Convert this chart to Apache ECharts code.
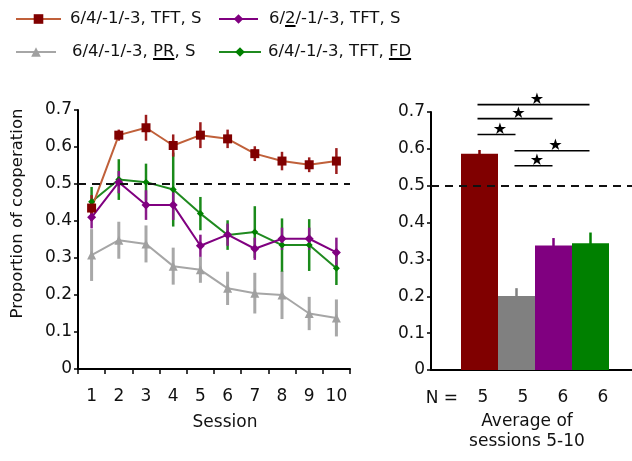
<!DOCTYPE html>
<html>
<head>
<meta charset="utf-8">
<script src="https://cdn.jsdelivr.net/npm/echarts@6/dist/echarts.min.js"></script>
<style>html,body{margin:0;padding:0;background:#fff}#c{width:632px;height:461px}</style>
</head>
<body>
<div id="c"></div>
<script>
// ---- data ----
const sessions = ['1','2','3','4','5','6','7','8','9','10'];
const seriesNames = ['6/4/-1/-3, TFT, S', '6/2/-1/-3, TFT, S', '6/4/-1/-3, PR, S', '6/4/-1/-3, TFT, FD'];
const tftS   = [0.435, 0.632, 0.652, 0.604, 0.632, 0.622, 0.582, 0.562, 0.552, 0.562];
const tftSErr= [0.035, 0.015, 0.035, 0.030, 0.035, 0.025, 0.020, 0.025, 0.020, 0.035];
const tft2   = [0.410, 0.505, 0.443, 0.443, 0.333, 0.363, 0.325, 0.352, 0.352, 0.315];
const tft2Err= [0.030, 0.030, 0.040, 0.040, 0.030, 0.030, 0.030, 0.030, 0.030, 0.040];
const prS    = [0.308, 0.348, 0.338, 0.278, 0.268, 0.218, 0.205, 0.200, 0.150, 0.138];
const prSErr = [0.070, 0.050, 0.050, 0.050, 0.035, 0.045, 0.055, 0.065, 0.045, 0.050];
const tftFD  = [0.452, 0.512, 0.505, 0.485, 0.420, 0.362, 0.370, 0.335, 0.335, 0.272];
const tftFDErr=[0.040, 0.055, 0.050, 0.100, 0.045, 0.040, 0.070, 0.072, 0.070, 0.045];
const yTicks = ['0','0.1','0.2','0.3','0.4','0.5','0.6','0.7'];
const chance = 0.5;
const barGroups = ['TFT, S', 'PR, S', '6/2 TFT, S', 'TFT, FD'];
const barValues = [0.587, 0.201, 0.338, 0.344];
const barErr    = [0.010, 0.021, 0.020, 0.029];
const nValues   = ['5', '5', '6', '6'];
// significance brackets: [from bar index, to bar index, height]
const sigPairs = [[0, 3, 0.720], [0, 2, 0.682], [0, 1, 0.639], [1, 3, 0.595], [1, 2, 0.554]];

// ---- styles ----
const FONT = 'DejaVu Sans';
const lineColors = ['#c0603a', '#800080', '#a6a6a6', '#1f8a1f'];
const markColors = ['#800000', '#800080', '#a0a0a0', '#008000'];
const errColors  = ['#9b1c1c', '#8a1a8a', '#a8a8a8', '#1a8a1a'];
const symbols    = ['rect', 'diamond', 'triangle', 'diamond'];
const symSizes   = [9, 9, 9, 7];
const barColors  = ['#800000', '#808080', '#800080', '#008000'];

const means = [tftS, tft2, prS, tftFD];
const errs  = [tftSErr, tft2Err, prSErr, tftFDErr];

function errRender(color, w) {
  return function (params, api) {
    const x = api.value(0);
    const p1 = api.coord([x, api.value(1)]);
    const p2 = api.coord([x, api.value(2)]);
    return {type: 'line', shape: {x1: p1[0], y1: p1[1], x2: p2[0], y2: p2[1]},
            style: {stroke: color, lineWidth: w}};
  };
}

const series = [];
// error bars (left)
[2, 3, 1, 0].forEach(k => {
  series.push({
    type: 'custom', name: 'err' + k, xAxisIndex: 0, yAxisIndex: 0, silent: true,
    renderItem: errRender(errColors[k], k === 2 ? 3 : 2.5),
    data: means[k].map((m, i) => [i, m - errs[k][i], m + errs[k][i]]), z: 2
  });
});
// lines (left)
[2, 3, 1, 0].forEach(k => {
  series.push({
    type: 'line', name: seriesNames[k], xAxisIndex: 0, yAxisIndex: 0,
    data: means[k], symbol: symbols[k], symbolSize: symSizes[k],
    lineStyle: {color: lineColors[k], width: 2},
    itemStyle: {color: markColors[k]}, z: 3,
    markLine: k === 2 ? {silent: true, symbol: 'none', label: {show: false},
      lineStyle: {color: '#111', type: [8, 6], width: 2}, data: [{yAxis: chance}]} : undefined
  });
});
// dashed chance line on right panel
series.push({
  type: 'line', name: 'chanceR', xAxisIndex: 1, yAxisIndex: 1, data: [],
  markLine: {silent: true, symbol: 'none', label: {show: false},
    lineStyle: {color: '#111', type: [8, 6], width: 2}, data: [{yAxis: chance}]}
});
// bars
series.push({
  type: 'bar', name: 'avg', xAxisIndex: 2, yAxisIndex: 2, barWidth: '100%', barGap: '0%',
  data: barValues.map((v, i) => ({value: v, itemStyle: {color: barColors[i]}})), z: 2
});
series.push({
  type: 'custom', name: 'barErr', xAxisIndex: 2, yAxisIndex: 2, silent: true, z: 3,
  renderItem: function (params, api) {
    const i = api.value(0);
    const p1 = api.coord([i, api.value(1)]);
    const p2 = api.coord([i, api.value(2)]);
    return {type: 'line', shape: {x1: p1[0], y1: p1[1], x2: p2[0], y2: p2[1]},
            style: {stroke: barColors[i], lineWidth: 2.5}};
  },
  data: barValues.map((v, i) => [i, v - barErr[i], v + barErr[i]])
});
series.push({
  type: 'custom', name: 'sig', xAxisIndex: 2, yAxisIndex: 2, silent: true, z: 4,
  renderItem: function (params, api) {
    const a = api.coord([api.value(0), api.value(2)]);
    const b = api.coord([api.value(1), api.value(2)]);
    return {type: 'group', children: [
      {type: 'line', shape: {x1: a[0] - 2, y1: a[1], x2: b[0] - 1, y2: b[1]},
       style: {stroke: '#000', lineWidth: 1.6}},
      {type: 'text', style: {text: '\u2605', x: (a[0] + b[0]) / 2 + 2, y: a[1] + 3,
        fill: '#000', font: '16px "DejaVu Sans"', align: 'center', verticalAlign: 'bottom'}}
    ]};
  },
  data: sigPairs
});

const uline = {type: 'linear', x: 0, y: 0, x2: 0, y2: 1, colorStops: [
  {offset: 0, color: 'rgba(0,0,0,0)'}, {offset: 0.84, color: 'rgba(0,0,0,0)'},
  {offset: 0.84, color: '#000'}, {offset: 0.95, color: '#000'},
  {offset: 0.95, color: 'rgba(0,0,0,0)'}, {offset: 1, color: 'rgba(0,0,0,0)'}]};
const legendText = {fontFamily: FONT, fontSize: 16.5, color: '#111', lineHeight: 22,
  rich: {u: {fontFamily: FONT, fontSize: 16.5, color: '#111', lineHeight: 22, backgroundColor: uline}}};
function legendItem(k, left, top, w, pad, fmt) {
  return {show: true, data: [seriesNames[k]], left: left, top: top, padding: 0, itemWidth: w, itemHeight: 12,
    orient: 'horizontal', selectedMode: false,
    textStyle: Object.assign({padding: [0, 0, 0, pad]}, legendText),
    formatter: fmt || (n => n)};
}

const axisLabelStyle = {fontFamily: FONT, fontSize: 17, color: '#111'};
const valueY = (gi, show) => ({
  type: 'value', gridIndex: gi, min: 0, max: 0.7, interval: 0.1, show: show,
  axisLine: {show: true, lineStyle: {color: '#000', width: 2}},
  axisTick: {show: true, length: 4, lineStyle: {color: '#000', width: 1.5}},
  splitLine: {show: false},
  axisLabel: Object.assign({margin: 6, formatter: (v) => yTicks[Math.round(v * 10)]}, axisLabelStyle)
});

const option = {
  animation: false,
  backgroundColor: '#fff',
  legend: [
    legendItem(0, 15, 8, 45, 4),
    legendItem(1, 218, 8, 39, 6, n => n.replace('6/2/', '6/{u|2}/')),
    legendItem(2, 15, 41, 40, 11, n => n.replace('PR', '{u|PR}')),
    legendItem(3, 218, 41, 42, 2, n => n.replace('FD', '{u|FD}'))
  ],
  grid: [
    {left: 78, right: 282, top: 110, bottom: 92},
    {left: 431, right: 0, top: 112, bottom: 91},
    {left: 461, right: 23, top: 112, bottom: 91},
    {left: 463, right: 9, top: 112, bottom: 91}
  ],
  xAxis: [
    {type: 'category', gridIndex: 0, data: sessions, boundaryGap: true,
     axisLine: {lineStyle: {color: '#000', width: 2}},
     axisTick: {show: true, length: 5, interval: 0, lineStyle: {color: '#000', width: 1.5}},
     axisLabel: Object.assign({margin: 19, interval: 0}, axisLabelStyle),
     name: 'Session', nameLocation: 'middle', nameGap: 44,
     nameTextStyle: {fontFamily: FONT, fontSize: 17, color: '#111', lineHeight: 20, padding: [0, 0, 0, 22]}},
    {type: 'value', gridIndex: 1, min: 0, max: 1,
     axisLine: {show: true, lineStyle: {color: '#000', width: 2}},
     axisTick: {show: false}, axisLabel: {show: false}, splitLine: {show: false},
     name: 'Average of\nsessions 5-10', nameLocation: 'middle', nameGap: 42,
     nameTextStyle: {fontFamily: FONT, fontSize: 17, color: '#111', lineHeight: 20, padding: [0, 9, 0, 0]}},
    {type: 'category', gridIndex: 2, data: barGroups, show: false},
    {type: 'category', gridIndex: 3, data: barGroups,
     axisLine: {show: false}, axisTick: {show: false},
     axisLabel: Object.assign({margin: 19, interval: 0, formatter: (v, i) => nValues[i]}, axisLabelStyle),
     name: 'N =', nameLocation: 'start', nameGap: 5,
     nameTextStyle: {fontFamily: FONT, fontSize: 17, color: '#111', verticalAlign: 'top', align: 'right',
       lineHeight: 18, padding: [20, 0, 0, 0]}}
  ],
  yAxis: [
    Object.assign(valueY(0, true), {name: 'Proportion of cooperation', nameLocation: 'middle', nameGap: 52,
      nameTextStyle: {fontFamily: FONT, fontSize: 16.5, color: '#111', padding: [0, 0, 0, 52]}}),
    valueY(1, true),
    {type: 'value', gridIndex: 2, min: 0, max: 0.7, show: false},
    {type: 'value', gridIndex: 3, min: 0, max: 0.7, show: false}
  ],
  series: series
};

const chart = echarts.init(document.getElementById('c'), null, {renderer: 'canvas'});
chart.setOption(option);
</script>
</body>
</html>
